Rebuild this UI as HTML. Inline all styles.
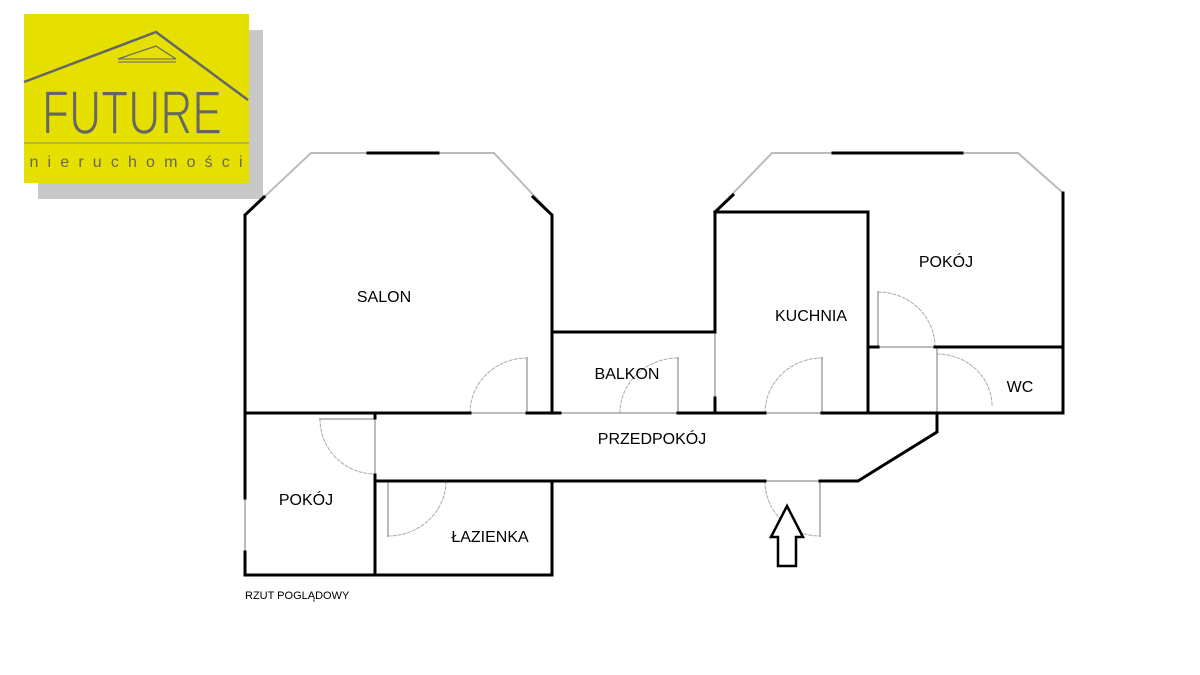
<!DOCTYPE html>
<html><head><meta charset="utf-8"><style>
body{margin:0;width:1200px;height:675px;background:#fff;overflow:hidden;font-family:"Liberation Sans","DejaVu Sans",sans-serif}
svg{position:absolute;left:0;top:0}
</style></head><body>
<svg width="1200" height="675" viewBox="0 0 1200 675">
<rect x="38" y="30" width="225" height="169" fill="#c8c8c8"/>
<rect x="24" y="14" width="225" height="169" fill="#e6e000"/>
<polyline points="24,82 156,32 248,100" fill="none" stroke="#666" stroke-width="2.5"/>
<polyline points="118,59 156,46 176,59" fill="none" stroke="#666" stroke-width="1.2"/>
<line x1="118" y1="59" x2="176" y2="59" stroke="#666" stroke-width="1"/>
<line x1="118" y1="62" x2="176" y2="62" stroke="#666" stroke-width="1"/>
<text x="132" y="134" text-anchor="middle" font-size="62" fill="#666" font-family="Liberation Sans" textLength="180" lengthAdjust="spacingAndGlyphs" font-weight="normal" style="stroke:#e6e000;stroke-width:1.5px">FUTURE</text>
<line x1="24" y1="143" x2="249" y2="143" stroke="#888" stroke-width="1"/>
<text x="136" y="167" text-anchor="middle" font-size="16" fill="#666" textLength="213" lengthAdjust="spacing">nieruchomości</text>

<g fill="none" stroke-linecap="square">
<!-- thin gray window/door lines -->
<g stroke="#bbb" stroke-width="2">
<line x1="311" y1="153" x2="494" y2="153"/>
<line x1="245" y1="215" x2="311" y2="153"/>
<line x1="494" y1="153" x2="552" y2="215"/>
<line x1="772" y1="153" x2="1018" y2="153"/>
<line x1="715" y1="212" x2="772" y2="153"/>
<line x1="1018" y1="153" x2="1063" y2="193"/>
<line x1="470" y1="413" x2="527" y2="413"/>
<line x1="552" y1="413" x2="715" y2="413"/>
<line x1="715" y1="332" x2="715" y2="413"/>
<line x1="765" y1="413" x2="822" y2="413"/>
<line x1="878" y1="347" x2="937" y2="347"/>
<line x1="937" y1="347" x2="937" y2="413"/>
<line x1="375" y1="413" x2="375" y2="481"/>
<line x1="375" y1="481" x2="552" y2="481"/>
<line x1="765" y1="481" x2="820" y2="481"/>
<line x1="245" y1="498" x2="245" y2="552"/>
<line x1="527" y1="358" x2="527" y2="413"/>
<line x1="678" y1="358" x2="678" y2="413"/>
<line x1="822" y1="358" x2="822" y2="413"/>
<line x1="878" y1="292" x2="878" y2="347"/>
<line x1="320" y1="419" x2="375" y2="419"/>
<line x1="388" y1="481" x2="388" y2="536"/>
<line x1="820" y1="481" x2="820" y2="536"/>
</g>
<g stroke="#aaa" stroke-width="1" stroke-dasharray="3,2">
<path d="M470,413 A57,55 0 0 1 527,358"/>
<path d="M620,413 A58,55 0 0 1 678,358"/>
<path d="M765,413 A57,55 0 0 1 822,358"/>
<path d="M878,292 A57,55 0 0 1 935,347"/>
<path d="M937,354 A55,52 0 0 1 992,406"/>
<path d="M320,419 A55,55 0 0 0 375,474"/>
<path d="M388,536 A58,55 0 0 0 446,481"/>
<path d="M765,481 A55,55 0 0 0 820,536"/>
</g>
<!-- thick walls -->
<g stroke="#000" stroke-width="3">
<line x1="368" y1="153" x2="438" y2="153"/>
<line x1="833" y1="153" x2="962" y2="153"/>
<polyline points="264,197 245,215 245,498"/>
<polyline points="245,552 245,575 552,575 552,481"/>
<polyline points="533,197 552,215 552,413 527,413"/>
<line x1="245" y1="413" x2="470" y2="413"/>
<polyline points="552,332 715,332 715,212 868,212 868,413 822,413"/>
<line x1="765" y1="413" x2="715" y2="413"/>
<line x1="678" y1="413" x2="715" y2="413"/>
<line x1="552" y1="413" x2="560" y2="413"/>
<line x1="715" y1="398" x2="715" y2="413"/>
<line x1="715" y1="212" x2="733" y2="195"/>
<polyline points="1063,193 1063,413 937,413 937,432 858,481 820,481"/>
<line x1="935" y1="347" x2="1063" y2="347"/>
<line x1="868" y1="347" x2="878" y2="347"/>
<line x1="868" y1="413" x2="937" y2="413"/>
<line x1="765" y1="481" x2="375" y2="481"/>
<line x1="375" y1="481" x2="375" y2="575"/>
<line x1="375" y1="413" x2="375" y2="418"/>
<line x1="375" y1="475" x2="375" y2="481"/>
</g>
<polygon points="787,506 803,537 796,537 796,566 778,566 778,537 771,537" stroke="#000" stroke-width="2.5" stroke-linejoin="miter" fill="#fff"/>
</g>
<g font-size="16" fill="#000" text-anchor="middle">
<text x="384" y="302">SALON</text>
<text x="627" y="379">BALKON</text>
<text x="811" y="321">KUCHNIA</text>
<text x="946" y="267">POKÓJ</text>
<text x="1020" y="392">WC</text>
<text x="652" y="444">PRZEDPOKÓJ</text>
<text x="306" y="505">POKÓJ</text>
<text x="490" y="542">ŁAZIENKA</text>
</g>
<text x="245" y="599" font-size="11" fill="#000">RZUT POGLĄDOWY</text>
</svg>
</body></html>
